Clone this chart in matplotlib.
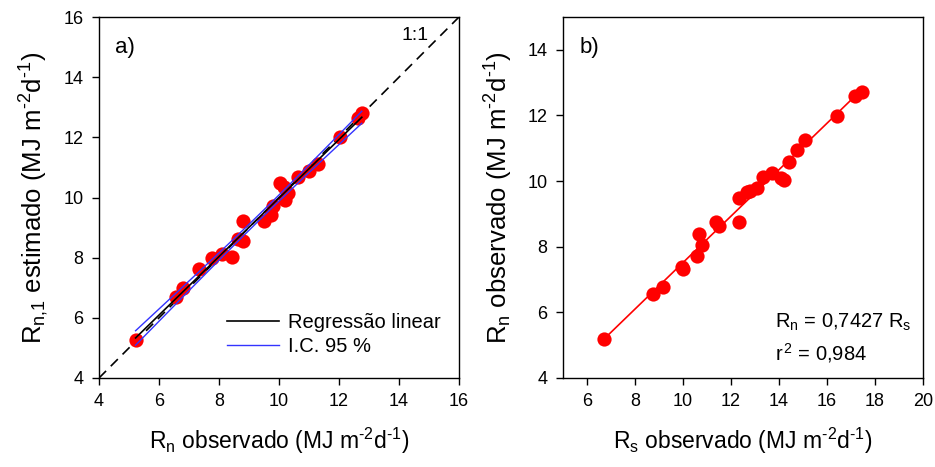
import numpy as np
import matplotlib
matplotlib.use('Agg')
import matplotlib.pyplot as plt

plt.rcParams['font.family'] = ['Liberation Sans', 'DejaVu Sans']
plt.rcParams['mathtext.fontset'] = 'custom'
plt.rcParams['mathtext.rm'] = 'Liberation Sans'
plt.rcParams['mathtext.it'] = 'Liberation Sans'
plt.rcParams['mathtext.default'] = 'regular'

# ─── dados painel a) Rn observado x Rn,1 estimado ───
rn_obs_a = [5.22, 6.57, 6.79, 7.34, 7.78, 8.09, 8.42, 8.64, 8.79, 8.79, 9.50, 9.72,
            9.81, 10.03, 10.17, 10.20, 10.29, 10.64, 11.00, 11.31, 12.03, 12.64, 12.76]
rn_est_a = [5.26, 6.70, 7.00, 7.61, 7.98, 8.12, 8.03, 8.61, 8.55, 9.22, 9.23, 9.42,
            9.72, 10.49, 10.36, 9.92, 10.14, 10.67, 10.89, 11.11, 12.02, 12.63, 12.80]

# ─── dados painel b) Rs observado x Rn observado ───
rs_b = [6.71, 8.76, 9.18, 9.97, 10.01, 10.57, 10.67, 10.78, 11.36, 11.51, 12.35, 12.33, 12.65,
        12.79, 13.07, 13.32, 13.71, 14.07, 14.21, 14.40, 14.76, 15.10, 16.40, 17.17, 17.45]
rn_b = [5.18, 6.55, 6.77, 7.37, 7.31, 7.73, 8.40, 8.06, 8.76, 8.63, 8.76, 9.48, 9.66,
        9.70, 9.80, 10.12, 10.24, 10.10, 10.02, 10.59, 10.94, 11.26, 11.99, 12.58, 12.71]

ticks_a = [4, 6, 8, 10, 12, 14, 16]
ticks_bx = [6, 8, 10, 12, 14, 16, 18, 20]
ticks_by = [4, 6, 8, 10, 12, 14]

unid = r' (MJ m$^{\text{-}2}$d$^{\text{-}1}$)'

fig = plt.figure(figsize=(9.35, 4.67), dpi=100)
ax1 = fig.add_axes([99/935, 89/467, 360/935, 361/467])
ax2 = fig.add_axes([563/935, 89/467, 360/935, 361/467])

for ax in (ax1, ax2):
    ax.tick_params(direction='out', length=5, width=1, labelsize=13, pad=6)
    for s in ax.spines.values():
        s.set_linewidth(1)

# ─── painel a) ───
x = np.array(rn_obs_a)
y = np.array(rn_est_a)
b1, b0 = np.polyfit(x, y, 1)
xx = np.linspace(x.min(), x.max(), 100)
yy = b0 + b1 * xx
n = len(x)
s = np.sqrt(np.sum((y - (b0 + b1 * x))**2) / (n - 2))
se = s * np.sqrt(1/n + (xx - x.mean())**2 / np.sum((x - x.mean())**2))
t = 2.08  # t de Student, 21 g.l.

ax1.plot([4, 16], [4, 16], color='black', ls=(0, (6, 4)), lw=1.2)
ax1.scatter(x, y, s=105, color='#ff0000', zorder=3, linewidths=0)
ax1.plot(xx, yy, color='black', lw=1.2, zorder=4, label='Regressão linear')
ax1.plot(xx, yy + t*se, color='#3333ff', lw=1, zorder=4, label='I.C. 95 %')
ax1.plot(xx, yy - t*se, color='#3333ff', lw=1, zorder=4)
ax1.set_xlim(4, 16)
ax1.set_ylim(4, 16)
ax1.set_xticks(ticks_a)
ax1.set_yticks(ticks_a)
ax1.text(0.045, 0.915, 'a)', transform=ax1.transAxes, fontsize=16, va='center')
ax1.text(14.55, 15.4, '1:1', fontsize=14, ha='center', va='center')
ax1.legend(loc='lower right', frameon=False, fontsize=14.5, handlelength=2.6,
           handletextpad=0.45, labelspacing=0.25, bbox_to_anchor=(1.0, 0.01))
ax1.set_xlabel(r'R$_{n}$ observado' + unid, fontsize=16.5, labelpad=11)
ax1.set_ylabel(r'R$_{n{,}1}$ estimado' + unid, fontsize=18.5, labelpad=9)

# ─── painel b) ───
xb = np.array(rs_b)
yb = np.array(rn_b)
c1, c0 = np.polyfit(xb, yb, 1)
xl = np.array([xb.min(), xb.max()])
ax2.scatter(xb, yb, s=105, color='#ff0000', zorder=3, linewidths=0)
ax2.plot(xl, c0 + c1 * xl, color='#ff0000', lw=1.2, zorder=2)
ax2.set_xlim(5, 20)
ax2.set_ylim(4, 15)
ax2.set_xticks(ticks_bx)
ax2.set_yticks(ticks_by)
ax2.text(0.045, 0.915, 'b)', transform=ax2.transAxes, fontsize=16, va='center')
ax2.text(0.59, 0.14, r'R$_{n}$ = 0,7427 R$_{s}$', transform=ax2.transAxes, fontsize=14.5)
ax2.text(0.59, 0.05, r'r$^{\,2}$ = 0,984', transform=ax2.transAxes, fontsize=14.5)
ax2.set_xlabel(r'R$_{s}$ observado' + unid, fontsize=16.5, labelpad=11)
ax2.set_ylabel(r'R$_{n}$ observado' + unid, fontsize=18.5, labelpad=9)

fig.savefig('out.png', dpi=100)
